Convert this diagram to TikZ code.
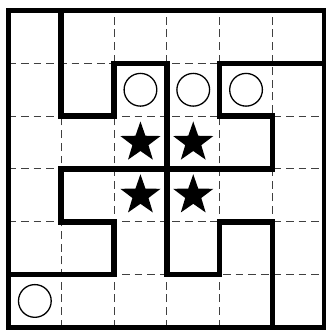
\documentclass[tikz,border=0pt]{standalone}
\usetikzlibrary{shapes.geometric}
\begin{document}
	\begin{tikzpicture}
		\tikzstyle{gridline}=[color=black!75, line width=0.5pt, dash pattern=on 4.2pt off 2.6pt]
		\tikzstyle{wall}=[line width=3pt, line cap=rect, line join=miter]
		\tikzstyle{ring}=[circle, draw, line width=0.7pt, minimum size=0.62cm, inner sep=0pt]
		\tikzstyle{starmark}=[star, star points=5, star point ratio=2.5, fill=black, minimum size=0.8cm, inner sep=0pt]
		\useasboundingbox (-0.16,-0.05) rectangle (6.0,6.2);
		\draw [gridline] (1,0) -- (1,6);
		\draw [gridline] (2,0) -- (2,6);
		\draw [gridline] (3,0) -- (3,6);
		\draw [gridline] (4,0) -- (4,6);
		\draw [gridline] (5,0) -- (5,6);
		\draw [gridline] (0,1) -- (6,1);
		\draw [gridline] (0,2) -- (6,2);
		\draw [gridline] (0,3) -- (6,3);
		\draw [gridline] (0,4) -- (6,4);
		\draw [gridline] (0,5) -- (6,5);
		\draw [wall] (0,0) rectangle (6,6);
		\draw [wall] (1,6) -- (1,4) -- (2,4) -- (2,5) -- (3,5) -- (3,1) -- (4,1) -- (4,2) -- (5,2) -- (5,0);
		\draw [wall] (6,5) -- (4,5) -- (4,4) -- (5,4) -- (5,3) -- (1,3) -- (1,2) -- (2,2) -- (2,1) -- (0,1);
		\node [ring] (ringA) at (2.5,4.5) {};
		\node [ring] (ringB) at (3.5,4.5) {};
		\node [ring] (ringC) at (4.5,4.5) {};
		\node [ring] (ringD) at (0.5,0.5) {};
		\node [starmark] (starA) at (2.5,3.5) {};
		\node [starmark] (starB) at (3.5,3.5) {};
		\node [starmark] (starC) at (2.5,2.5) {};
		\node [starmark] (starD) at (3.5,2.5) {};
	\end{tikzpicture}
\end{document}
